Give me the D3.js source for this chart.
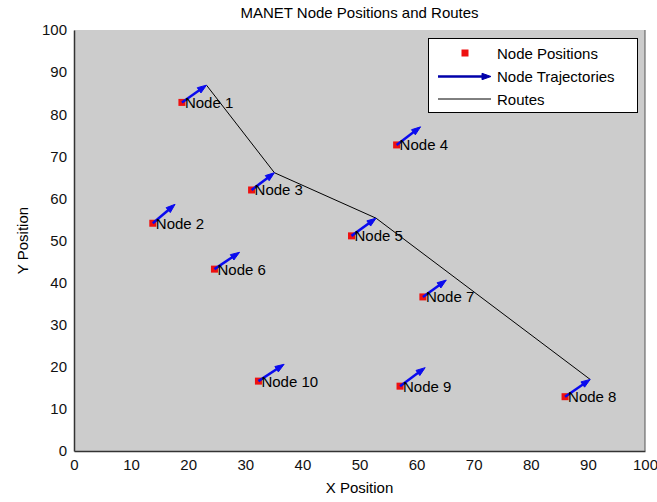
<!DOCTYPE html>
<html>
<head>
<meta charset="utf-8">
<script src="https://cdn.jsdelivr.net/npm/d3@7"></script>
<style>
  html, body { margin: 0; padding: 0; background: #ffffff; }
  svg { display: block; }
  text { font-family: "Liberation Sans", Arial, sans-serif; }
</style>
</head>
<body>
<svg id="chart" width="657" height="502"></svg>
<script>
// ---- data ----
const nodeIds = [1, 2, 3, 4, 5, 6, 7, 8, 9, 10];
const nodeX = [18.9, 13.8, 31.1, 56.5, 48.6, 24.6, 61.1, 86.0, 57.1, 32.3];
const nodeY = [82.8, 54.1, 62.0, 72.7, 51.1, 43.2, 36.6, 12.9, 15.4, 16.6];
const velX = [4.3, 3.9, 4.0, 4.2, 4.3, 4.4, 4.1, 4.4, 4.4, 4.5];
const velY = [4.1, 4.5, 4.1, 4.3, 4.2, 4.0, 4.0, 4.1, 4.4, 4.0];
const routeNodes = [1, 3, 5, 8];
const xTicks = [0, 10, 20, 30, 40, 50, 60, 70, 80, 90, 100];
const yTicks = [0, 10, 20, 30, 40, 50, 60, 70, 80, 90, 100];
const legendLabels = ["Node Positions", "Node Trajectories", "Routes"];

// ---- layout ----
const pLeft = 74, pRight = 645, pTop = 30, pBottom = 451;
const svg = d3.select("#chart");
const x = d3.scaleLinear().domain([0, 100]).range([pLeft, pRight]);
const y = d3.scaleLinear().domain([0, 100]).range([pBottom, pTop]);

const nodes = nodeIds.map((id, i) => ({ id, x: nodeX[i], y: nodeY[i], vx: velX[i], vy: velY[i] }));

// plot background
svg.append("rect").attr("x", pLeft).attr("y", pTop)
  .attr("width", pRight - pLeft).attr("height", pBottom - pTop)
  .attr("fill", "#cccccc");

// axes
const xAxis = d3.axisBottom(x).tickValues(xTicks).tickSize(0).tickPadding(8).tickFormat(d3.format("d"));
const yAxis = d3.axisLeft(y).tickValues(yTicks).tickSize(0).tickPadding(7).tickFormat(d3.format("d"));
const gx = svg.append("g").attr("transform", `translate(0,${pBottom})`).call(xAxis);
const gy = svg.append("g").attr("transform", `translate(${pLeft},0)`).call(yAxis);
[gx, gy].forEach(g => {
  g.selectAll("text").attr("font-size", 15).attr("fill", "#111").attr("font-family", '"Liberation Sans", Arial, sans-serif');
  g.select(".domain").attr("stroke", "#333").attr("stroke-width", 1.5);
});
// right border
svg.append("line").attr("x1", pRight).attr("x2", pRight).attr("y1", pTop).attr("y2", pBottom)
  .attr("stroke", "#555").attr("stroke-width", 1);

// route
const routePts = routeNodes.map(id => nodes.find(n => n.id === id));
svg.append("path")
  .attr("d", d3.line().x(n => x(n.x + n.vx)).y(n => y(n.y + n.vy))(routePts))
  .attr("fill", "none").attr("stroke", "#000").attr("stroke-width", 1);

// node squares
svg.selectAll("rect.node").data(nodes).join("rect").attr("class", "node")
  .attr("x", d => x(d.x) - 3.5).attr("y", d => y(d.y) - 3.5)
  .attr("width", 7).attr("height", 7).attr("fill", "#ee1111");

// arrows
function arrow(g, x0, y0, x1, y1, color) {
  const dx = x1 - x0, dy = y1 - y0, len = Math.hypot(dx, dy);
  const ux = dx / len, uy = dy / len, nx = -uy, ny = ux;
  const L = 9, w = 3.2;
  g.append("line").attr("x1", x0).attr("y1", y0)
    .attr("x2", x1 - ux * L * 0.5).attr("y2", y1 - uy * L * 0.5)
    .attr("stroke", color).attr("stroke-width", 2.5);
  g.append("path").attr("d",
    `M${x1},${y1}L${x1 - ux * L + nx * w},${y1 - uy * L + ny * w}L${x1 - ux * L - nx * w},${y1 - uy * L - ny * w}Z`)
    .attr("fill", color).attr("stroke", color).attr("stroke-width", 1);
}
const ga = svg.append("g");
nodes.forEach(n => arrow(ga, x(n.x), y(n.y), x(n.x + n.vx), y(n.y + n.vy), "#0a0aee"));

// labels
svg.selectAll("text.lbl").data(nodes).join("text").attr("class", "lbl")
  .attr("x", d => x(d.x) + 3).attr("y", d => y(d.y))
  .attr("dominant-baseline", "central")
  .attr("font-size", 15).attr("fill", "#000")
  .text(d => "Node " + d.id);

// title & axis labels
svg.append("text").attr("x", (pLeft + pRight) / 2).attr("y", 12)
  .attr("text-anchor", "middle").attr("dominant-baseline", "central")
  .attr("font-size", 15).attr("fill", "#000").text("MANET Node Positions and Routes");
svg.append("text").attr("x", (pLeft + pRight) / 2).attr("y", 487)
  .attr("text-anchor", "middle").attr("dominant-baseline", "central")
  .attr("font-size", 15).attr("fill", "#000").text("X Position");
svg.append("text").attr("transform", `translate(22,${(pTop + pBottom) / 2}) rotate(-90)`)
  .attr("text-anchor", "middle").attr("dominant-baseline", "central")
  .attr("font-size", 15).attr("fill", "#000").text("Y Position");

// legend
const lg = svg.append("g");
lg.append("rect").attr("x", 428.5).attr("y", 38.5).attr("width", 209).attr("height", 74)
  .attr("fill", "#ffffff").attr("stroke", "#000").attr("stroke-width", 1);
const rowY = [53, 76.5, 99];
lg.append("rect").attr("x", 465 - 3.5).attr("y", rowY[0] - 3.5).attr("width", 7).attr("height", 7).attr("fill", "#ee1111");
arrow(lg, 438, rowY[1], 491, rowY[1], "#0000aa");
lg.append("line").attr("x1", 438).attr("x2", 491).attr("y1", rowY[2]).attr("y2", rowY[2])
  .attr("stroke", "#000").attr("stroke-width", 1);
legendLabels.forEach((t, i) => {
  lg.append("text").attr("x", 497).attr("y", rowY[i]).attr("dominant-baseline", "central")
    .attr("font-size", 15).attr("fill", "#000").text(t);
});
</script>
</body>
</html>
